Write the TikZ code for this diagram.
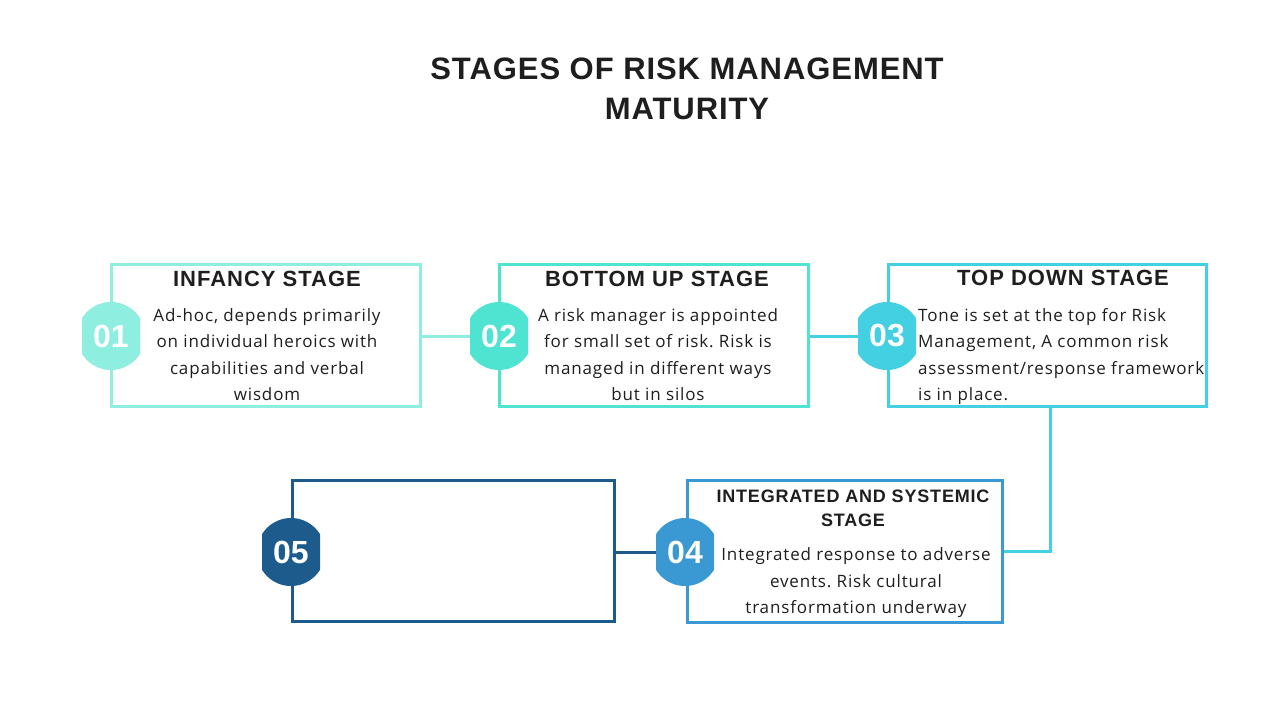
\documentclass[tikz,border=0pt]{standalone}
\usepackage{fontspec}
\setmainfont{Open Sans}
\newfontfamily\bodyfont[LetterSpace=5]{Open Sans}
\newfontfamily\headfont[LetterSpace=4.5]{Liberation Sans}
\newfontfamily\titlefont[LetterSpace=3]{Liberation Sans}
\newfontfamily\numfont{Liberation Sans}
\frenchspacing
\definecolor{cA}{HTML}{8EEEE0}
\definecolor{cB}{HTML}{4FE3D2}
\definecolor{cC}{HTML}{42D0E2}
\definecolor{cD}{HTML}{3A98D3}
\definecolor{cE}{HTML}{1D5B8C}
\definecolor{ink}{HTML}{1E1E1E}
\begin{document}
\begin{tikzpicture}[x=1pt,y=-1pt,
  stagebox/.style={draw=#1, line width=3pt, inner sep=0pt},
  badge/.style={minimum width=58pt, minimum height=70pt, inner sep=0pt,
    path picture={\fill[#1] (path picture bounding box.center) circle[radius=34pt];},
    text=white, font=\numfont\fontsize{32}{32}\selectfont\bfseries},
  link/.style={draw=#1, line width=3pt},
  head/.style={text=ink, font=\headfont\fontsize{22}{24}\selectfont\bfseries, inner sep=0pt, align=center},
  body/.style={text=ink, font=\bodyfont\fontsize{17}{26.5}\selectfont\frenchspacing, inner sep=0pt, align=center}
]
\useasboundingbox[fill=white] (0,0) rectangle (1280,720);

% title
\node[text=ink, font=\titlefont\fontsize{31}{40}\selectfont\bfseries, align=center, inner sep=0pt] (title) at (687,89)
  {STAGES OF RISK MANAGEMENT\\MATURITY};

% boxes
\node[stagebox=cA, minimum width=309pt, minimum height=142pt] (box1) at (265.5,335) {};
\node[stagebox=cB, minimum width=309pt, minimum height=142pt] (box2) at (653.5,335) {};
\node[stagebox=cC, minimum width=318pt, minimum height=142pt] (box3) at (1047,335) {};
\node[stagebox=cD, minimum width=315pt, minimum height=142pt] (box4) at (844.5,551) {};
\node[stagebox=cE, minimum width=322pt, minimum height=141pt] (box5) at (453,550.5) {};

% badge anchors (placed first so connectors can refer to them)
\node[minimum width=58pt, minimum height=70pt, inner sep=0pt] (b1) at (111,336) {};
\node[minimum width=58pt, minimum height=70pt, inner sep=0pt] (b2) at (499,336) {};
\node[minimum width=58pt, minimum height=70pt, inner sep=0pt] (b3) at (887,336) {};
\node[minimum width=58pt, minimum height=70pt, inner sep=0pt] (b4) at (685,552) {};
\node[minimum width=58pt, minimum height=70pt, inner sep=0pt] (b5) at (291,552) {};

% connectors
\draw[link=cA] (box1.east |- b1.center) -- (b2.west);
\draw[link=cC] (box2.east |- b2.center) -- (b3.west);
\draw[link=cC] (box3.south -| 1050,0) |- (box4.east);
\draw[link=cE] (box5.east |- b5.center) ++(-2,0) -- (b4.west);

% badges on top of connectors
\node[badge=cA] (n1) at (b1) {01};
\node[badge=cB] (n2) at (b2) {02};
\node[badge=cC] (n3) at (b3) {03};
\node[badge=cD] (n4) at (b4) {04};
\node[badge=cE] (n5) at (b5) {05};

% headings
\node[head] (h1) at (267,279) {INFANCY STAGE};
\node[head] (h2) at (657,279) {BOTTOM UP STAGE};
\node[head] (h3) at (1063,278) {TOP DOWN STAGE};
\node[head, font=\headfont\fontsize{18}{24}\selectfont\bfseries] (h4) at (853,508) {INTEGRATED AND SYSTEMIC\\STAGE};

% bodies
\node[body, anchor=north] (t1) at (267,308) {Ad-hoc, depends primarily\\on individual heroics with\\capabilities and verbal\\wisdom};
\node[body, anchor=north] (t2) at (658,308) {A risk manager is appointed\\for small set of risk. Risk is\\managed in different ways\\but in silos};
\node[body, anchor=north west, align=left] (t3) at (918,308) {Tone is set at the top for Risk\\Management, A common risk\\assessment/response framework\\is in place.};
\node[body, anchor=north] (t4) at (856,547.5) {Integrated response to adverse\\events. Risk cultural\\transformation underway};
\end{tikzpicture}
\end{document}
